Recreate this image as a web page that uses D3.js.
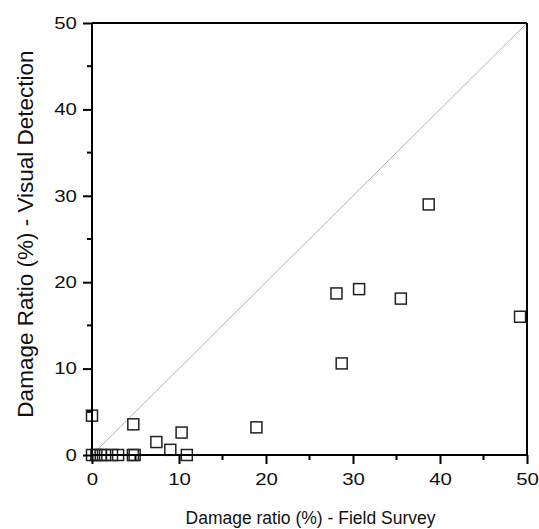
<!DOCTYPE html>
<html>
<head>
<meta charset="utf-8">
<script src="https://cdn.jsdelivr.net/npm/d3@7"></script>
<style>
  html, body { margin: 0; padding: 0; background: #fff; }
  svg { display: block; }
  text { font-family: "Liberation Sans", Arial, sans-serif; fill: #111; }
</style>
</head>
<body>
<svg id="chart" width="539" height="529"></svg>
<script>
// Data: field survey damage ratio (%) vs visual detection damage ratio (%)
const fieldSurvey = [0, 0.5, 1.0, 1.5, 2.3, 3.0, 4.7, 4.9, 0, 4.75, 7.4, 9.0, 10.3, 10.9, 18.9, 28.1, 28.7, 30.7, 35.5, 38.7, 49.2];
const visualDetection = [0, 0, 0, 0, 0, 0, 0, 0, 4.55, 3.55, 1.5, 0.6, 2.6, 0, 3.2, 18.7, 10.6, 19.2, 18.1, 29.0, 16.0];
const xTicks = [0, 10, 20, 30, 40, 50];
const yTicks = [0, 10, 20, 30, 40, 50];
const minorTicks = [5, 15, 25, 35, 45];
const xTitle = "Damage ratio (%) - Field Survey";
const yTitle = "Damage Ratio (%) - Visual Detection";

const svg = d3.select("#chart");
const W = 539, H = 529;
const m = { left: 92, right: 12, top: 23, bottom: 74 };

const x = d3.scaleLinear().domain([0, 50]).range([m.left, W - m.right]);
const y = d3.scaleLinear().domain([0, 50]).range([H - m.bottom, m.top]);

// 1:1 line
svg.append("line")
  .attr("x1", x(0)).attr("y1", y(0))
  .attr("x2", x(50)).attr("y2", y(50))
  .attr("stroke", "#aaa").attr("stroke-width", 0.9);

// points
const pts = fieldSurvey.map((v, i) => ({ fx: v, vy: visualDetection[i] }));
const s = 11;
svg.append("g").selectAll("rect").data(pts).join("rect")
  .attr("x", d => x(d.fx) - s / 2)
  .attr("y", d => y(d.vy) - s / 2)
  .attr("width", s).attr("height", s)
  .attr("fill", "none")
  .attr("stroke", "#222")
  .attr("stroke-width", 1.5);

// frame (top & right)
svg.append("line").attr("x1", x(0)).attr("x2", x(50)).attr("y1", y(50)).attr("y2", y(50))
  .attr("stroke", "#000").attr("stroke-width", 2);
svg.append("line").attr("x1", x(50)).attr("x2", x(50)).attr("y1", y(0)).attr("y2", y(50))
  .attr("stroke", "#000").attr("stroke-width", 2);

// axes
const sx = 1.24; // horizontal stretch of tick labels
const xAxis = d3.axisBottom(x).tickValues(xTicks).tickSize(9).tickPadding(9).tickFormat(d3.format("d"));
const yAxis = d3.axisLeft(y).tickValues(yTicks).tickSize(9).tickPadding(6).tickFormat(d3.format("d"));

const gx = svg.append("g").attr("transform", `translate(0,${y(0)})`).call(xAxis);
const gy = svg.append("g").attr("transform", `translate(${x(0)},0)`).call(yAxis);

// minor ticks
gx.selectAll(".minor").data(minorTicks).join("line").attr("class", "minor")
  .attr("x1", d => x(d)).attr("x2", d => x(d)).attr("y1", 0).attr("y2", 5)
  .attr("stroke", "#000").attr("stroke-width", 2);
gy.selectAll(".minor").data(minorTicks).join("line").attr("class", "minor")
  .attr("y1", d => y(d)).attr("y2", d => y(d)).attr("x1", 0).attr("x2", -5)
  .attr("stroke", "#000").attr("stroke-width", 2);

[gx, gy].forEach(g => {
  g.select(".domain").attr("stroke", "#000").attr("stroke-width", 2)
    .attr("d", g === gx ? `M${x(0)},0H${x(50)}` : `M0,${y(0)}V${y(50)}`);
  g.selectAll(".tick line").attr("stroke", "#000").attr("stroke-width", 2);
  g.selectAll(".tick text").attr("font-size", 16.5).attr("fill", "#111")
    .style("font-family", "'Liberation Sans', Arial, sans-serif")
    .attr("transform", `scale(${sx},1)`);
});
gy.selectAll(".tick text").attr("x", -15 / sx);

// titles
svg.append("text")
  .attr("x", (x(0) + x(50)) / 2 + 1)
  .attr("y", 524)
  .attr("text-anchor", "middle")
  .attr("font-size", 17.5)
  .text(xTitle);

svg.append("text")
  .attr("transform", `translate(33,234) rotate(-90)`)
  .attr("text-anchor", "middle")
  .attr("font-size", 22.5)
  .text(yTitle);
</script>
</body>
</html>
